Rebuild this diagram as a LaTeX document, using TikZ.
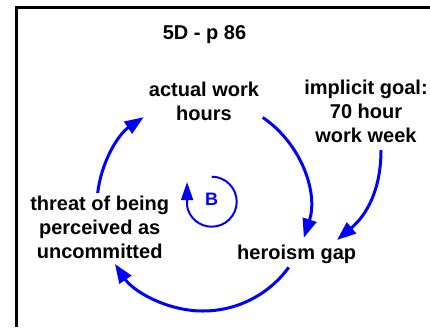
\documentclass[tikz,border=0pt]{standalone}
\usepackage{fontspec}
\setmainfont{Liberation Sans}
\usetikzlibrary{arrows.meta}
\begin{document}
\begin{tikzpicture}[x=1pt,y=1pt,
  lbl/.style={font=\fontsize{20}{24}\selectfont\bfseries, align=center, inner sep=0pt},
  link/.style={draw=blue, line width=3pt, -{Triangle[length=19pt,width=14pt]}},
  smallloop/.style={draw=blue, line width=2pt, -{Triangle[length=18pt,width=12pt]}}]
\useasboundingbox (0,0) rectangle (430,-327);

% frame
\draw[line width=3pt] (16.3,-327) -- (16.3,-7.5) -- (430,-7.5);

% labels
\node[lbl] (title)  at (204.5,-34.9)  {5D - p 86};
\node[lbl] (act)    at (204,-101.5)   {actual work\\hours};
\node[lbl] (goal)   at (366,-110.9)   {implicit goal:\\70 hour\\work week};
\node[lbl] (threat) at (99.7,-227.5)  {threat of being\\perceived as\\uncommitted};
\node[lbl] (gap)    at (296.7,-254.2) {heroism gap};
\node[font=\fontsize{18}{20}\selectfont\bfseries, text=blue, inner sep=0pt] (B) at (211.7,-199.7) {B};

% balancing loop around the centre of the diagram
\coordinate (loopc) at (203,-205);
\draw[link] (loopc) ++(55.7:106)  arc[start angle=55.7,  end angle=-18,    radius=106];
\draw[link] (loopc) ++(-36:106)   arc[start angle=-36,   end angle=-146.2, radius=106];
\draw[link] (loopc) ++(173.5:106) arc[start angle=173.5, end angle=124,    radius=106];

% goal feeding the gap
\coordinate (goalout) at (381,-150);
\coordinate (gapin)   at (337,-240);
\draw[link] (goalout) to[out=-90,in=40] (gapin);

% loop marker around B
\draw[smallloop] (B) ++(0,23) arc[start angle=90, end angle=-170, radius=25] -- ++(0,24);
\end{tikzpicture}
\end{document}
